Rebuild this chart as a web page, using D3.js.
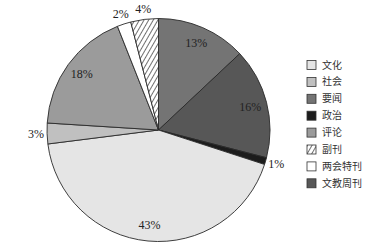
<!DOCTYPE html>
<html>
<head>
<meta charset="utf-8">
<script src="https://cdn.jsdelivr.net/npm/d3@7"></script>
<style>
  body { margin: 0; background: #fff; }
</style>
</head>
<body>
<div id="chart"></div>
<script>
// legend order
var categories = ["文化", "社会", "要闻", "政治", "评论", "副刊", "两会特刊", "文教周刊"];
var values = [43, 3, 13, 1, 18, 4, 2, 16];
// order of slices clockwise from 12 o'clock
var pieOrder = ["要闻", "文教周刊", "政治", "文化", "社会", "评论", "两会特刊", "副刊"];

var width = 375, height = 247,
    cx = 158.5, cy = 130, radius = 111.5;

var svg = d3.select("#chart").append("svg")
    .attr("width", width)
    .attr("height", height);

var defs = svg.append("defs");
defs.append("pattern")
    .attr("id", "hatch")
    .attr("patternUnits", "userSpaceOnUse")
    .attr("width", 4)
    .attr("height", 4)
    .attr("patternTransform", "rotate(30)")
  .call(function(p) {
    p.append("rect").attr("width", 4).attr("height", 4).attr("fill", "#fff");
    p.append("line").attr("x1", 0).attr("y1", 0).attr("x2", 0).attr("y2", 4)
      .attr("stroke", "#222").attr("stroke-width", 1.3);
  });

var color = d3.scaleOrdinal()
    .domain(categories)
    .range(["#e5e5e5", "#c0c0c0", "#747474", "#1c1c1c", "#9b9b9b", "url(#hatch)", "#ffffff", "#575757"]);

var data = pieOrder.map(function(name) {
  return { name: name, value: values[categories.indexOf(name)] };
});

var pie = d3.pie()
    .sort(null)
    .value(function(d) { return d.value; });

var arc = d3.arc().innerRadius(0).outerRadius(radius);

var g = svg.append("g").attr("transform", "translate(" + cx + "," + cy + ")");

var arcs = pie(data);

g.selectAll("path")
    .data(arcs)
    .enter().append("path")
      .attr("d", arc)
      .attr("fill", function(d) { return color(d.data.name); })
      .attr("stroke", "#2a2a2a")
      .attr("stroke-width", 0.9);

// labels: small slices outside, others inside
g.selectAll("text.pct")
    .data(arcs)
    .enter().append("text")
      .attr("class", "pct")
      .attr("transform", function(d) {
        var a = (d.startAngle + d.endAngle) / 2;
        var r = d.data.value < 5 ? radius + 11 : radius * 0.85;
        return "translate(" + (Math.sin(a) * r) + "," + (-Math.cos(a) * r) + ")";
      })
      .attr("dy", "0.35em")
      .attr("text-anchor", "middle")
      .attr("font-family", "Liberation Serif, serif")
      .attr("font-size", 12)
      .attr("fill", "#222")
      .text(function(d) { return d.data.value + "%"; });

var legend = svg.append("g")
    .attr("font-family", "Noto Sans CJK SC, sans-serif")
    .attr("font-size", 10)
  .selectAll("g")
  .data(categories)
  .enter().append("g")
    .attr("transform", function(d, i) { return "translate(307," + (60.5 + i * 16.9) + ")"; });

legend.append("rect")
    .attr("width", 9)
    .attr("height", 9)
    .attr("fill", color)
    .attr("stroke", "#333")
    .attr("stroke-width", 0.8);

legend.append("text")
    .attr("x", 15)
    .attr("y", 4.5)
    .attr("dy", "0.35em")
    .attr("fill", "#333")
    .text(function(d) { return d; });
</script>
</body>
</html>
